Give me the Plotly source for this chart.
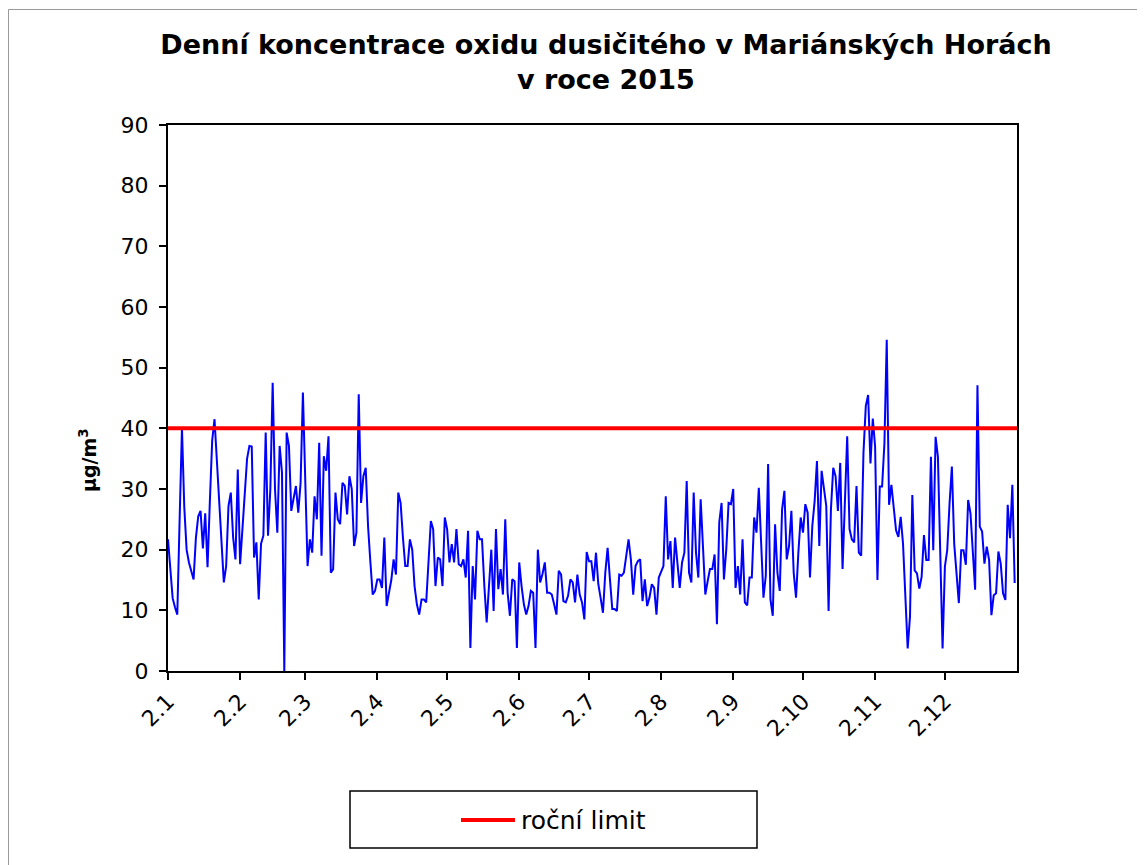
import plotly.graph_objects as go

# Daily NO2 concentrations (µg/m3), month by month
jan = [21.7, 16, 12, 10.5, 9.3, 25, 40, 27, 20, 17.9, 16.5, 15.1, 22, 25.5, 26.4, 20.2,
       26, 17.1, 28, 38, 41.5, 35, 27, 20, 14.6, 17.3, 27.2, 29.4, 22, 18.4, 33.2]
feb = [17.6, 24, 30, 35, 37.1, 37, 18.7, 21.2, 11.8, 21, 22.3, 39.3, 22.3, 30, 47.5, 30,
       22.8, 37.1, 32.7, 0, 39.3, 37.1, 26.4, 28.3, 30.5, 26.1, 31, 45.9]
mar = [29.4, 17.3, 21.7, 19.5, 28.8, 25, 37.6, 19, 35.4, 33, 38.7, 16.2, 16.8, 29.4, 25, 24.2,
       31, 30.5, 25.8, 32.1, 30, 20.6, 22.8, 45.6, 27.7, 32.1, 33.5, 23.9, 18, 12.6, 13.2]
apr = [15.1, 15.1, 13.7, 22, 10.7, 12.9, 15, 18.4, 15.9, 29.4, 27.7, 22, 17.3, 17.3, 21.7,
       20, 14, 11, 9.3, 11.8, 11.8, 11.3, 18, 24.7, 23.4, 14, 18.7, 18.4, 14, 25.3]
may = [23.4, 17.9, 20.9, 17.9, 23.4, 17.6, 17.3, 18.4, 15.4, 23.1, 3.8, 17.3, 11.8, 23.1, 21.7,
       21.7, 14, 8, 14, 20, 9.9, 23.4, 13.5, 16.8, 12.6, 25, 12.9, 9.1, 15.1, 14.8, 3.8]
jun = [17.9, 14, 11, 9.3, 10.7, 13.2, 12.9, 3.8, 20, 14.6, 16, 17.9, 12.9, 12.9, 12.6,
       11, 9.3, 16.5, 15.9, 11.5, 11.3, 12.4, 15.1, 14.6, 11.3, 15.9, 12.6, 11.3, 8.5, 19.6]
jul = [18.1, 18.1, 14.8, 19.5, 14.3, 12, 9.6, 16.2, 20.3, 15.1, 10.2, 10.2, 9.9, 15.9, 15.7,
       16.2, 19, 21.7, 18.4, 12.6, 17.3, 18.1, 18.4, 11.5, 15.1, 10.7, 12.1, 14.3, 13.7, 9.3, 15.4]
aug = [16.5, 17.3, 28.8, 18.4, 21.4, 13.7, 22, 18.4, 13.7, 17.9, 19.5, 31.3, 16.2, 14.6, 29.4,
       19.5, 15.4, 28.3, 19.5, 12.6, 14.8, 16.8, 16.8, 19.2, 7.7, 24.5, 27.7, 15.1, 20, 27.7, 27.5]
sep = [30, 13.7, 17.3, 12.6, 21.7, 11.3, 10.8, 15.4, 15.4, 25.3, 22.8, 30.2, 20.6, 12.1, 15.7,
       34.1, 11.8, 9.1, 24.2, 16.2, 13.2, 26.6, 29.7, 18.4, 20.6, 26.4, 16.2, 12.1, 19.5, 25.3]
oct_ = [22.8, 27.5, 26.1, 15.4, 23.9, 28, 34.6, 20.6, 33, 30, 27.2, 9.9, 26.6, 33.5, 32.1,
        26.4, 34.3, 16.8, 27.2, 38.7, 23.4, 21.7, 21.2, 30.5, 19.5, 19, 36, 43.7, 45.5, 34.2, 41.6]
nov = [37, 15, 30.4, 30.4, 37.5, 54.6, 27.4, 30.7, 27.1, 23.2, 22.1, 25.4, 21, 12, 3.7,
       9, 29, 16.6, 16.1, 13.6, 15.5, 22.4, 18.3, 18.3, 35.3, 19.9, 38.6, 35.3, 20, 3.7]
dec = [17.2, 19.9, 27.6, 33.7, 21, 15.5, 11.2, 19.9, 19.9, 17.5, 28.2, 26, 19.9, 13.4, 47.1,
       23.8, 23, 17.7, 20.5, 18.3, 9.2, 12.5, 12.8, 19.7, 17.7, 12.8, 11.7, 27.4, 21.9, 30.7, 14.5]

annual_limit = 40
month_start_days = [0, 31, 59, 90, 120, 151, 181, 212, 243, 273, 304, 334]
tick_labels = ["2.1", "2.2", "2.3", "2.4", "2.5", "2.6", "2.7", "2.8", "2.9", "2.10", "2.11", "2.12"]

no2 = jan + feb + mar + apr + may + jun + jul + aug + sep + oct_ + nov + dec
days = list(range(len(no2)))
n_days = 365

FONT = "DejaVu Sans"

fig = go.Figure()
fig.add_trace(go.Scatter(x=days, y=no2, mode="lines", name="NO2",
                         line=dict(color="#0000FF", width=2), showlegend=False))
fig.add_trace(go.Scatter(x=[0, n_days], y=[annual_limit, annual_limit], mode="lines",
                         name="roční limit", line=dict(color="#FF0000", width=4),
                         showlegend=False))

# page body adds an 8px offset; figure is sized to fit the window
OFF = 8
W, H = 1145 - OFF, 865 - OFF
L, T = 168 - OFF, 125 - OFF
R = W - (1017 - OFF)
B = H - (671 - OFF)
pw, ph = W - L - R, H - T - B

def px(x):
    # screen x of the reference -> paper coordinate
    return (x - OFF - L) / pw

def py(y):
    # screen y of the reference -> paper coordinate
    return (H - B - (y - OFF)) / ph

fig.update_layout(
    width=W, height=H,
    margin=dict(l=L, r=R, t=T, b=B, autoexpand=False),
    paper_bgcolor="white", plot_bgcolor="white",
    font=dict(family=FONT, color="black"),
    title=dict(text="<b>Denní koncentrace oxidu dusičitého v Mariánských Horách</b>",
               font=dict(family=FONT, size=27, color="black"),
               xref="paper", x=px(606), xanchor="center",
               yref="container", y=1 - 27 / H, yanchor="top"),
    showlegend=False,
    xaxis=dict(range=[0, n_days], tickmode="array", tickvals=month_start_days,
               ticktext=tick_labels, tickangle=-45, ticks="outside", ticklen=7,
               tickwidth=1.5, tickcolor="black", showline=True, linecolor="black",
               linewidth=2, mirror=True, showgrid=False, zeroline=False,
               tickfont=dict(family=FONT, size=22, color="black")),
    yaxis=dict(range=[0, 90], tickmode="linear", tick0=0, dtick=10, ticks="outside",
               ticklen=7, tickwidth=1.5, tickcolor="black", showline=True,
               linecolor="black", linewidth=2, mirror=True, showgrid=False,
               zeroline=False, ticklabelstandoff=6,
               tickfont=dict(family=FONT, size=22, color="black")),
)

fig.add_annotation(text="<b>v roce 2015</b>", xref="paper", yref="paper",
                   x=px(606), y=py(62), xanchor="center", yanchor="top",
                   showarrow=False, font=dict(family=FONT, size=27, color="black"))

# y-axis title
fig.add_annotation(text="<b>µg/m<sup>3</sup></b>", xref="paper", yref="paper",
                   x=px(88), y=py(460), xanchor="center", yanchor="middle",
                   textangle=-90, showarrow=False,
                   font=dict(family=FONT, size=19, color="black"))

# outer chart frame
fig.add_shape(type="rect", xref="paper", yref="paper",
              x0=px(8.5), x1=px(1200), y0=py(900), y1=py(9.5),
              line=dict(color="#999999", width=1), fillcolor="rgba(0,0,0,0)", layer="below")

# legend box
fig.add_shape(type="rect", xref="paper", yref="paper",
              x0=px(350), x1=px(757), y0=py(848), y1=py(791),
              line=dict(color="black", width=1.5), fillcolor="white")
fig.add_shape(type="line", xref="paper", yref="paper",
              x0=px(461), x1=px(515), y0=py(820), y1=py(820),
              line=dict(color="#FF0000", width=4))
fig.add_annotation(text="roční limit", xref="paper", yref="paper",
                   x=px(519), y=py(820), xanchor="left", yanchor="middle",
                   showarrow=False, font=dict(family=FONT, size=25, color="black"))

fig.write_html("out.html")
